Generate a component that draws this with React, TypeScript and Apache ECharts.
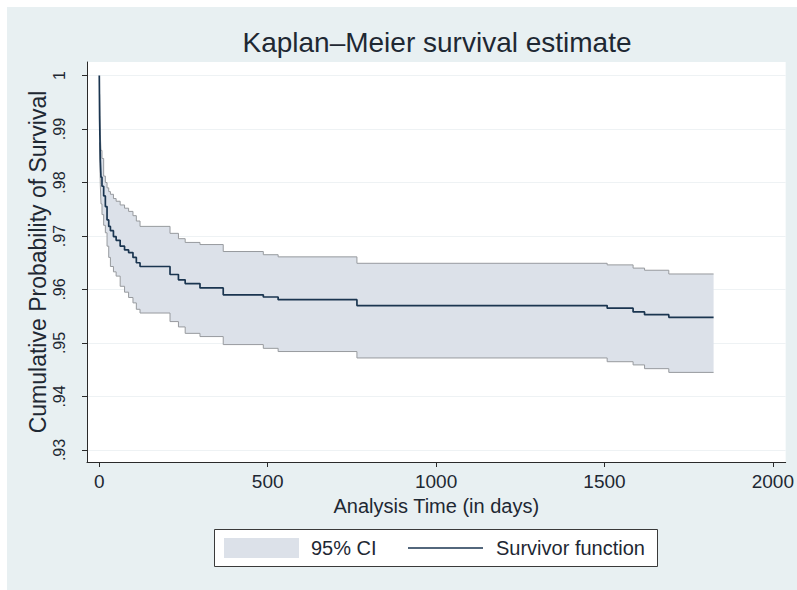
import React, { useEffect, useRef } from "react";
import * as echarts from "echarts";

const times = [0, 1, 2, 3, 5, 8, 13, 18, 23, 28, 33, 42, 50, 62, 75, 87, 100, 110, 121, 210, 235, 255, 299, 368, 487, 531, 765, 1508, 1585, 1619, 1691, 1824];
const survival = [1, 0.992, 0.988, 0.9843, 0.981, 0.9793, 0.9775, 0.9755, 0.973, 0.9718, 0.971, 0.9699, 0.9692, 0.9681, 0.9674, 0.9669, 0.966, 0.965, 0.9643, 0.9628, 0.9618, 0.9611, 0.9603, 0.959, 0.9586, 0.9581, 0.957, 0.9565, 0.9558, 0.9553, 0.9548, 0.9548];
const upperCI = [1, 0.9965, 0.9925, 0.989, 0.986, 0.9845, 0.9812, 0.98, 0.979, 0.9783, 0.9778, 0.977, 0.9765, 0.9758, 0.9752, 0.9746, 0.9738, 0.9728, 0.9718, 0.9705, 0.9695, 0.9688, 0.9684, 0.9671, 0.9665, 0.9661, 0.9649, 0.9646, 0.964, 0.9636, 0.9629, 0.9629];
const lowerCI = [1, 0.9875, 0.9835, 0.9796, 0.976, 0.974, 0.972, 0.9706, 0.9681, 0.966, 0.9643, 0.9633, 0.9625, 0.9606, 0.9595, 0.9585, 0.9575, 0.9563, 0.9556, 0.954, 0.953, 0.9518, 0.9512, 0.9497, 0.949, 0.9484, 0.9472, 0.9465, 0.9459, 0.9452, 0.9445, 0.9445];
const xTicks = [0, 500, 1000, 1500, 2000];
const yTicks = [0.93, 0.94, 0.95, 0.96, 0.97, 0.98, 0.99, 1];

const titleText = "Kaplan\u2013Meier survival estimate";
const xTitle = "Analysis Time (in days)";
const yTitle = "Cumulative Probability of Survival";
const legendCI = "95% CI";
const legendSurv = "Survivor function";

const FONT = "'Liberation Sans', Arial, Helvetica, sans-serif";
const BAND = "#dce1e9";
const BAND_EDGE = "#979a9e";
const NAVY = "#1a3550";
const TEXT = "#1e2833";

export default function App() {
  const ref = useRef<HTMLDivElement>(null);
  useEffect(() => {
    if (!ref.current) return;
    const chart = echarts.init(ref.current, null, { renderer: "svg" });
    const ci = times.map((t, i) => i).filter((i) => i > 0);
    const bandItem = (params: any, api: any) => {
      const top: number[][] = [];
      const bottom: number[][] = [];
      for (let k = 0; k < ci.length; k++) {
        const i = ci[k];
        const next = k + 1 < ci.length ? times[ci[k + 1]] : times[i];
        top.push(api.coord([times[i], upperCI[i]]));
        top.push(api.coord([next, upperCI[i]]));
        bottom.push(api.coord([times[i], lowerCI[i]]));
        bottom.push(api.coord([next, lowerCI[i]]));
      }
      const points = top.concat(bottom.reverse());
      return { type: "polygon", shape: { points }, style: { fill: BAND }, silent: true };
    };
    const option: any = {
      animation: false,
      backgroundColor: "#ffffff",
      grid: { left: 87, top: 62, width: 700, height: 400, show: true, backgroundColor: "#ffffff", borderWidth: 0 },
      xAxis: {
        type: "value",
        min: -36.5,
        max: 2038,
        name: xTitle,
        nameLocation: "middle",
        nameGap: 34,
        nameMoveOverlap: false,
        nameTextStyle: { fontFamily: FONT, fontSize: 20, color: TEXT },
        axisLine: { show: true, onZero: false, lineStyle: { color: "#2a2a2a", width: 1 } },
        axisTick: { show: true, length: 5, customValues: xTicks, lineStyle: { color: "#2a2a2a" } },
        axisLabel: { customValues: xTicks, margin: 10, fontFamily: FONT, fontSize: 19, color: TEXT, formatter: (v: number) => String(v) },
        splitLine: { show: false },
      },
      yAxis: {
        type: "value",
        min: 0.92775,
        max: 1.00253,
        name: yTitle,
        nameLocation: "middle",
        nameRotate: 90,
        nameGap: 38,
        nameMoveOverlap: false,
        nameTextStyle: { fontFamily: FONT, fontSize: 23, color: TEXT },
        axisLine: { show: true, onZero: false, lineStyle: { color: "#2a2a2a", width: 1 } },
        axisTick: { show: true, length: 5, customValues: yTicks, lineStyle: { color: "#2a2a2a" } },
        axisLabel: {
          customValues: yTicks,
          rotate: 90,
          margin: 20,
          fontFamily: FONT,
          fontSize: 16,
          color: TEXT,
          formatter: (v: number) => (v >= 0.9995 ? "1" : v.toFixed(2).slice(1)),
        },
        splitLine: { show: true, lineStyle: { color: "#eef2f4", width: 1 } },
      },
      series: [
        {
          type: "custom",
          name: legendCI,
          renderItem: bandItem,
          data: [[0, 1]],
          clip: true,
          silent: true,
          z: 1,
        },
        {
          type: "line",
          name: "upper",
          step: "end",
          symbol: "none",
          silent: true,
          data: ci.map((i) => [times[i], upperCI[i]]),
          lineStyle: { color: BAND_EDGE, width: 1 },
          z: 2,
        },
        {
          type: "line",
          name: "lower",
          step: "end",
          symbol: "none",
          silent: true,
          data: ci.map((i) => [times[i], lowerCI[i]]),
          lineStyle: { color: BAND_EDGE, width: 1 },
          z: 2,
        },
        {
          type: "line",
          name: legendSurv,
          step: "end",
          symbol: "none",
          silent: true,
          data: times.map((t, i) => [t, survival[i]]),
          lineStyle: { color: NAVY, width: 1.7 },
          z: 3,
        },
      ],
      graphic: [
        { type: "rect", z: -10, silent: true, shape: { x: 7, y: 7, width: 790, height: 583 }, style: { fill: "#e8f0f2" } },
        {
          type: "text",
          x: 437,
          y: 42,
          style: { text: titleText, font: `28px ${FONT}`, fill: TEXT, textAlign: "center", textVerticalAlign: "middle" },
        },
        { type: "rect", shape: { x: 214.5, y: 529.5, width: 443, height: 37 }, style: { fill: "#ffffff", stroke: "#3a3a3a", lineWidth: 1 } },
        { type: "rect", shape: { x: 224, y: 538, width: 75, height: 20 }, style: { fill: BAND } },
        {
          type: "text",
          x: 311,
          y: 548,
          style: { text: legendCI, font: `20px ${FONT}`, fill: TEXT, textAlign: "left", textVerticalAlign: "middle" },
        },
        { type: "line", shape: { x1: 408, y1: 548, x2: 483, y2: 548 }, style: { stroke: NAVY, lineWidth: 1.7 } },
        {
          type: "text",
          x: 496,
          y: 548,
          style: { text: legendSurv, font: `20px ${FONT}`, fill: TEXT, textAlign: "left", textVerticalAlign: "middle" },
        },
      ],
    };
    chart.setOption(option);
    return () => chart.dispose();
  }, []);
  return <div ref={ref} style={{ position: "fixed", left: 0, top: 0, width: 797, height: 590 }} />;
}
